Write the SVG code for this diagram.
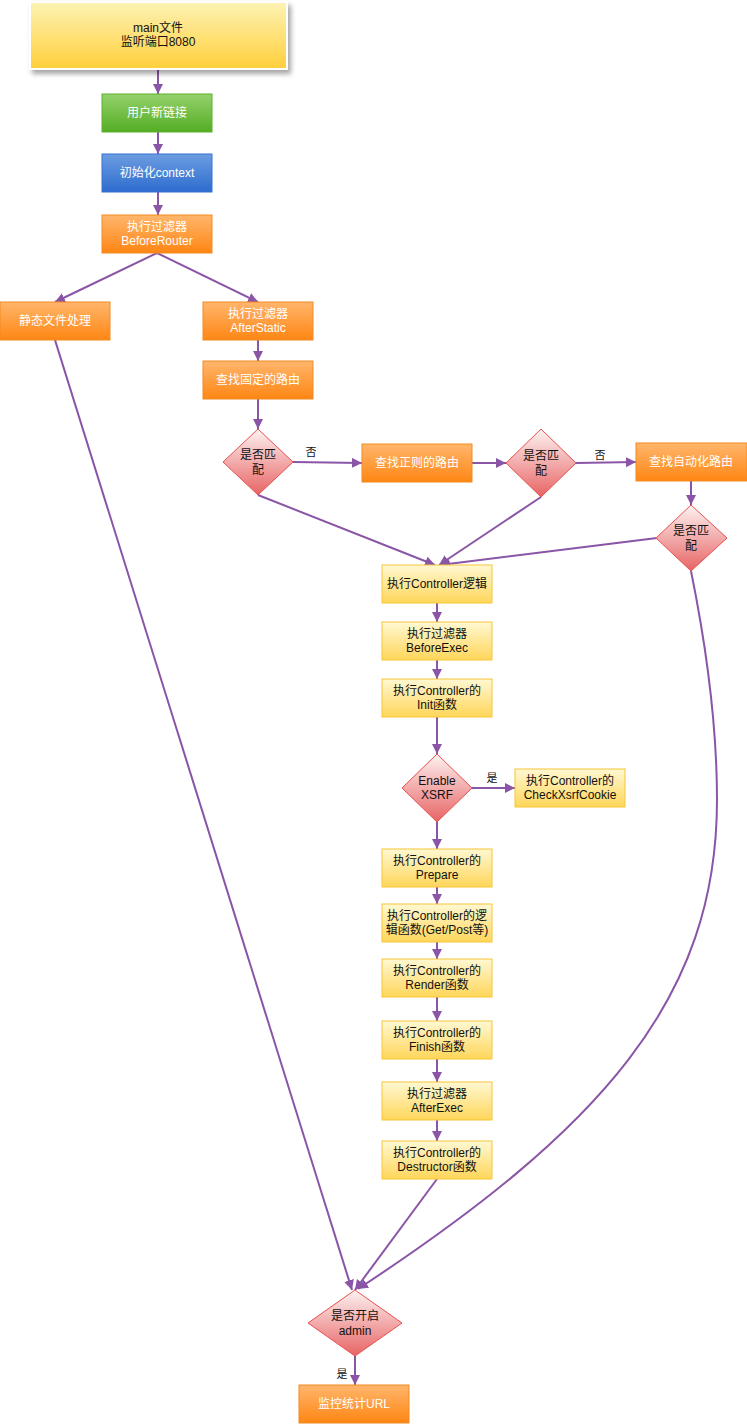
<svg xmlns="http://www.w3.org/2000/svg" width="747" height="1424" viewBox="0 0 747 1424">
<defs>
<linearGradient id="gMain" x1="0" y1="0" x2="0" y2="1"><stop offset="0" stop-color="#fdf3b4"/><stop offset="1" stop-color="#ffcf3a"/></linearGradient>
<linearGradient id="gGreen" x1="0" y1="0" x2="0" y2="1"><stop offset="0" stop-color="#95d16c"/><stop offset="1" stop-color="#54ad24"/></linearGradient>
<linearGradient id="gBlue" x1="0" y1="0" x2="0" y2="1"><stop offset="0" stop-color="#6d9de2"/><stop offset="1" stop-color="#2d6ccf"/></linearGradient>
<linearGradient id="gOrange" x1="0" y1="0" x2="0" y2="1"><stop offset="0" stop-color="#ffb66c"/><stop offset="1" stop-color="#ff8614"/></linearGradient>
<linearGradient id="gYellow" x1="0" y1="0" x2="0" y2="1"><stop offset="0" stop-color="#fff8d2"/><stop offset="1" stop-color="#ffd65a"/></linearGradient>
<linearGradient id="gRed" x1="0" y1="0" x2="0" y2="1"><stop offset="0" stop-color="#fdf2f2"/><stop offset="1" stop-color="#e86464"/></linearGradient>
<filter id="shadow" x="-10%" y="-20%" width="130%" height="160%"><feDropShadow dx="3" dy="4" stdDeviation="2.5" flood-color="#000" flood-opacity="0.35"/></filter>
<marker id="arr" markerUnits="userSpaceOnUse" markerWidth="12" markerHeight="12" refX="10" refY="5" orient="auto"><path d="M0,0 L10,5 L0,10 z" fill="#8a55a6"/></marker>
<style>
.c{fill:none;stroke:#8a55a6;stroke-width:2;marker-end:url(#arr)}
.t{font-family:"Liberation Sans","Noto Sans CJK SC",sans-serif;font-size:12px;text-anchor:middle}
.w{fill:#ffffff}
.k{fill:#111111}
.or{fill:url(#gOrange);stroke:#f28a22;stroke-width:1}
.gr{fill:url(#gGreen);stroke:#5ab22c;stroke-width:1}
.bl{fill:url(#gBlue);stroke:#3572d4;stroke-width:1}
.ye{fill:url(#gYellow);stroke:#f7c636;stroke-width:1}
.rd{fill:url(#gRed);stroke:#e65050;stroke-width:1}
.lb{font-family:"Liberation Sans","Noto Sans CJK SC",sans-serif;font-size:11px;text-anchor:middle;fill:#111}
</style>
</defs>
<rect width="747" height="1424" fill="#ffffff"/>

<g id="connectors">
<path class="c" d="M158,69 L158,94"/>
<path class="c" d="M158,132 L158,154"/>
<path class="c" d="M158,192 L158,215"/>
<path class="c" d="M157,253 L55,302"/>
<path class="c" d="M157,253 L258,302"/>
<path class="c" d="M258,340 L258,361"/>
<path class="c" d="M258,399 L258,429"/>
<path class="c" d="M293,462 L362,463"/>
<path class="c" d="M472,463 L506,463"/>
<path class="c" d="M576,463 L636,462"/>
<path class="c" d="M691,481 L691,505"/>
<path class="c" d="M258,495 L435,565"/>
<path class="c" d="M541,497 L439,565"/>
<path class="c" d="M657,538 L440,565"/>
<path class="c" d="M437,603 L437,622"/>
<path class="c" d="M437,660 L437,679"/>
<path class="c" d="M437,717 L437,754"/>
<path class="c" d="M472,788 L515,788"/>
<path class="c" d="M437,822 L437,849"/>
<path class="c" d="M437,887 L437,904"/>
<path class="c" d="M437,942 L437,959"/>
<path class="c" d="M437,997 L437,1021"/>
<path class="c" d="M437,1059 L437,1082"/>
<path class="c" d="M437,1120 L437,1141"/>
<path class="c" d="M437,1179 L355,1290"/>
<path class="c" d="M55,340 L352,1290"/>
<path class="c" d="M691,571 C705,640 717,720 717,800 C717,1000 600,1130 358,1289"/>
<path class="c" d="M355,1356 L355,1385"/>
<text class="lb" x="311" y="456">否</text>
<text class="lb" x="600" y="459">否</text>
<text class="lb" x="492" y="782">是</text>
<text class="lb" x="342" y="1378">是</text>
</g>

<g id="n_main">
<rect x="30" y="2" width="257" height="67" fill="url(#gMain)" stroke="#ffffff" stroke-width="2" filter="url(#shadow)"/>
<text class="t k" x="158" y="32">main文件</text>
<text class="t k" x="158" y="46">监听端口8080</text>
</g>
<g id="n_newconn">
<rect class="gr" x="102" y="94" width="110" height="38"/>
<text class="t w" x="157" y="117">用户新链接</text>
</g>
<g id="n_context">
<rect class="bl" x="102" y="154" width="110" height="38"/>
<text class="t w" x="157" y="177">初始化context</text>
</g>
<g id="n_beforerouter">
<rect class="or" x="102" y="215" width="110" height="38"/>
<text class="t w" x="157" y="231">执行过滤器</text>
<text class="t w" x="157" y="245">BeforeRouter</text>
</g>
<g id="n_static">
<rect class="or" x="0" y="302" width="110" height="38"/>
<text class="t w" x="55" y="325">静态文件处理</text>
</g>
<g id="n_afterstatic">
<rect class="or" x="203" y="302" width="110" height="38"/>
<text class="t w" x="258" y="318">执行过滤器</text>
<text class="t w" x="258" y="332">AfterStatic</text>
</g>
<g id="n_fixed">
<rect class="or" x="203" y="361" width="110" height="38"/>
<text class="t w" x="258" y="384">查找固定的路由</text>
</g>
<g id="n_d1">
<polygon class="rd" points="258,429 293,462 258,495 223,462"/>
<text class="t k" x="258" y="459">是否匹</text>
<text class="t k" x="258" y="474">配</text>
</g>
<g id="n_regex">
<rect class="or" x="362" y="444" width="110" height="38"/>
<text class="t w" x="417" y="467">查找正则的路由</text>
</g>
<g id="n_d2">
<polygon class="rd" points="541,429 576,463 541,497 506,463"/>
<text class="t k" x="541" y="460">是否匹</text>
<text class="t k" x="541" y="475">配</text>
</g>
<g id="n_auto">
<rect class="or" x="636" y="443" width="111" height="38"/>
<text class="t w" x="691" y="466">查找自动化路由</text>
</g>
<g id="n_d3">
<polygon class="rd" points="691,505 727,538 691,571 656,538"/>
<text class="t k" x="691" y="535">是否匹</text>
<text class="t k" x="691" y="550">配</text>
</g>
<g id="n_ctrl">
<rect class="ye" x="382" y="565" width="110" height="38"/>
<text class="t k" x="437" y="588">执行Controller逻辑</text>
</g>
<g id="n_beforeexec">
<rect class="ye" x="382" y="622" width="110" height="38"/>
<text class="t k" x="437" y="638">执行过滤器</text>
<text class="t k" x="437" y="652">BeforeExec</text>
</g>
<g id="n_init">
<rect class="ye" x="382" y="679" width="110" height="38"/>
<text class="t k" x="437" y="695">执行Controller的</text>
<text class="t k" x="437" y="709">Init函数</text>
</g>
<g id="n_xsrf">
<polygon class="rd" points="437,754 472,788 437,822 402,788"/>
<text class="t k" x="437" y="785">Enable</text>
<text class="t k" x="437" y="799">XSRF</text>
</g>
<g id="n_check">
<rect class="ye" x="515" y="769" width="110" height="38"/>
<text class="t k" x="570" y="785">执行Controller的</text>
<text class="t k" x="570" y="799">CheckXsrfCookie</text>
</g>
<g id="n_prepare">
<rect class="ye" x="382" y="849" width="110" height="38"/>
<text class="t k" x="437" y="865">执行Controller的</text>
<text class="t k" x="437" y="879">Prepare</text>
</g>
<g id="n_logic">
<rect class="ye" x="382" y="904" width="110" height="38"/>
<text class="t k" x="437" y="920">执行Controller的逻</text>
<text class="t k" x="437" y="934">辑函数(Get/Post等)</text>
</g>
<g id="n_render">
<rect class="ye" x="382" y="959" width="110" height="38"/>
<text class="t k" x="437" y="975">执行Controller的</text>
<text class="t k" x="437" y="989">Render函数</text>
</g>
<g id="n_finish">
<rect class="ye" x="382" y="1021" width="110" height="38"/>
<text class="t k" x="437" y="1037">执行Controller的</text>
<text class="t k" x="437" y="1051">Finish函数</text>
</g>
<g id="n_afterexec">
<rect class="ye" x="382" y="1082" width="110" height="38"/>
<text class="t k" x="437" y="1098">执行过滤器</text>
<text class="t k" x="437" y="1112">AfterExec</text>
</g>
<g id="n_destructor">
<rect class="ye" x="382" y="1141" width="110" height="38"/>
<text class="t k" x="437" y="1157">执行Controller的</text>
<text class="t k" x="437" y="1171">Destructor函数</text>
</g>
<g id="n_admin">
<polygon class="rd" points="355,1290 402,1323 355,1356 308,1323"/>
<text class="t k" x="355" y="1320">是否开启</text>
<text class="t k" x="355" y="1335">admin</text>
</g>
<g id="n_monitor">
<rect class="or" x="299" y="1385" width="110" height="38"/>
<text class="t w" x="354" y="1408">监控统计URL</text>
</g>
</svg>
